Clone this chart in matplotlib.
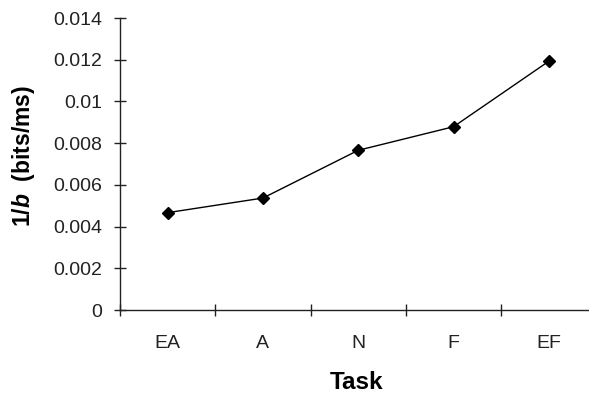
import matplotlib
matplotlib.use("Agg")
import matplotlib.pyplot as plt
from matplotlib.ticker import FixedLocator, FixedFormatter

# data
tasks = ["EA", "A", "N", "F", "EF"]
inv_b = [0.00467, 0.00537, 0.00766, 0.00879, 0.01193]
y_ticks = [0, 0.002, 0.004, 0.006, 0.008, 0.01, 0.012, 0.014]
y_tick_labels = ["0", "0.002", "0.004", "0.006", "0.008", "0.01", "0.012", "0.014"]

plt.rcParams["font.family"] = ["Liberation Sans", "DejaVu Sans"]
plt.rcParams["mathtext.fontset"] = "custom"
plt.rcParams["mathtext.bfit"] = "Liberation Sans:bold:italic"
plt.rcParams["mathtext.bf"] = "Liberation Sans:bold"

fig = plt.figure(figsize=(5.89, 3.97), dpi=100)
# axes runs past the right edge, like the original screenshot
ax = fig.add_axes([0.2037, 0.219, 0.809, 0.7355])

x = list(range(len(tasks)))
ax.plot(x, inv_b, color="black", lw=1.0, marker="D", markersize=6.5,
        markerfacecolor="black", markeredgecolor="black")

ax.set_xlim(-0.5, len(tasks) - 0.5)
ax.set_ylim(0, 0.014)

ax.spines["top"].set_visible(False)
ax.spines["right"].set_visible(False)
for s in ("left", "bottom"):
    ax.spines[s].set_color("#222222")
    ax.spines[s].set_linewidth(1.0)

ax.yaxis.set_major_locator(FixedLocator(y_ticks))
ax.yaxis.set_major_formatter(FixedFormatter(y_tick_labels))
ax.tick_params(axis="y", direction="inout", length=9, width=1.0,
               labelsize=14, pad=8.5, colors="#222222")

# category labels centred, tick marks on the boundaries
ax.xaxis.set_major_locator(FixedLocator(x))
ax.set_xticklabels(tasks)
ax.xaxis.set_minor_locator(FixedLocator([i - 0.5 for i in range(len(tasks) + 1)]))
ax.tick_params(axis="x", which="major", length=0, labelsize=14, pad=18,
               colors="#222222")
ax.tick_params(axis="x", which="minor", direction="inout", length=9,
               width=1.0, color="#222222")

ax.set_xlabel("Task", fontsize=17.5, fontweight="bold")
ax.set_ylabel(r"1/$\mathbfit{b}$  (bits/ms)", fontsize=16.5, fontweight="bold")
ax.xaxis.set_label_coords(0.497, -0.208)
ax.yaxis.set_label_coords(-0.174, 0.527)

fig.savefig("out.png", dpi=100)
